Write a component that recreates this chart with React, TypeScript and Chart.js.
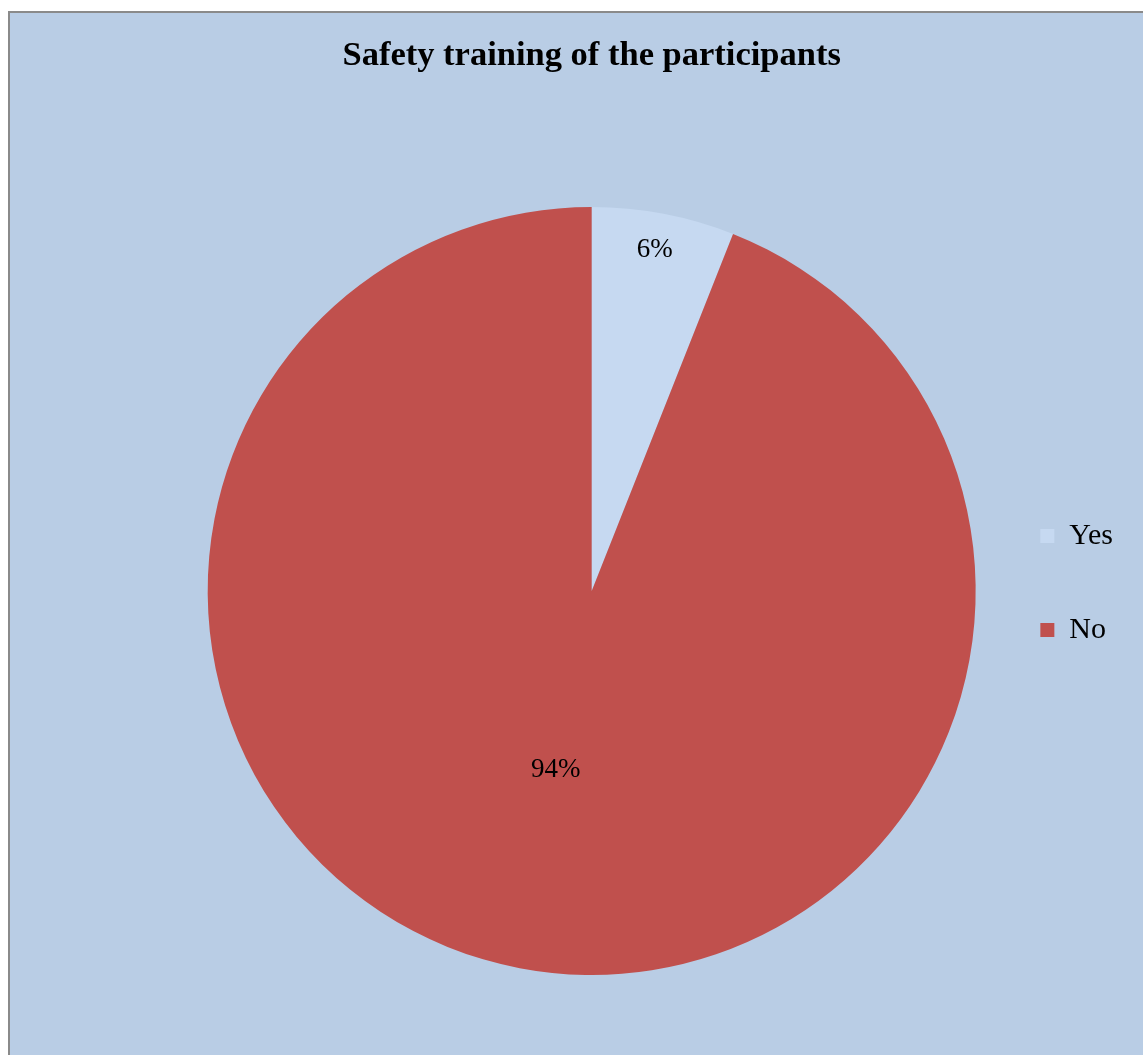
import React, { useEffect, useRef } from "react";
import { Chart, registerables } from "chart.js";

Chart.register(...registerables);

const chartTitle = "Safety training of the participants";
const categories = ["Yes", "No"];
const values = [6, 94];
const valueLabels = ["6%", "94%"];
const sliceColors = ["#C6D9F1", "#C0504D"];
// radial position of each percentage label, as a fraction of the radius
const labelRadialFraction = [0.905, 0.473];

const SERIF = '"Liberation Serif", "Times New Roman", serif';

const pieLabelsPlugin = {
  id: "pieLabels",
  afterDatasetsDraw(chart: any) {
    const ctx = chart.ctx;
    const meta = chart.getDatasetMeta(0);
    ctx.save();
    ctx.font = `27px ${SERIF}`;
    ctx.fillStyle = "#000000";
    ctx.textAlign = "center";
    ctx.textBaseline = "middle";
    meta.data.forEach((arc: any, i: number) => {
      const { startAngle, endAngle, outerRadius, x, y } = arc.getProps(
        ["startAngle", "endAngle", "outerRadius", "x", "y"],
        true
      );
      const mid = (startAngle + endAngle) / 2;
      const r = outerRadius * labelRadialFraction[i];
      ctx.fillText(valueLabels[i], x + Math.cos(mid) * r - 2, y + Math.sin(mid) * r);
    });
    ctx.restore();
  },
};

export default function App() {
  const canvasRef = useRef<HTMLCanvasElement | null>(null);

  useEffect(() => {
    if (!canvasRef.current) return;
    const chart = new Chart(canvasRef.current, {
      type: "pie",
      data: {
        labels: categories,
        datasets: [
          {
            data: values,
            backgroundColor: sliceColors,
            borderWidth: 0,
          },
        ],
      },
      options: {
        responsive: false,
        animation: false,
        layout: {
          padding: { left: 197, right: 20, top: 0, bottom: 80 },
        },
        plugins: {
          title: {
            display: true,
            text: chartTitle,
            fullSize: false,
            color: "#000000",
            font: { family: SERIF, size: 34.5, weight: "bold" },
            padding: { top: 22, bottom: 130.6 },
          },
          legend: {
            display: true,
            position: "right",
            maxWidth: 148,
            title: {
              display: true,
              text: "",
              padding: { top: 166, bottom: 0 },
              font: { family: SERIF, size: 10 },
            },
            labels: {
              color: "#000000",
              font: { family: SERIF, size: 30 },
              boxWidth: 14,
              boxHeight: 14,
              padding: 64,
            },
          },
          tooltip: { enabled: false },
        },
      },
      plugins: [pieLabelsPlugin],
    });
    return () => chart.destroy();
  }, []);

  return (
    <div
      style={{
        position: "fixed",
        left: 8,
        top: 11,
        width: 1135,
        height: 1044,
        boxSizing: "border-box",
        borderTop: "2px solid #8a8a8a",
        borderLeft: "2px solid #8a8a8a",
        background: "#B9CDE5",
        overflow: "hidden",
      }}
    >
      <canvas ref={canvasRef} width={1133} height={1042} style={{ display: "block" }} />
    </div>
  );
}
